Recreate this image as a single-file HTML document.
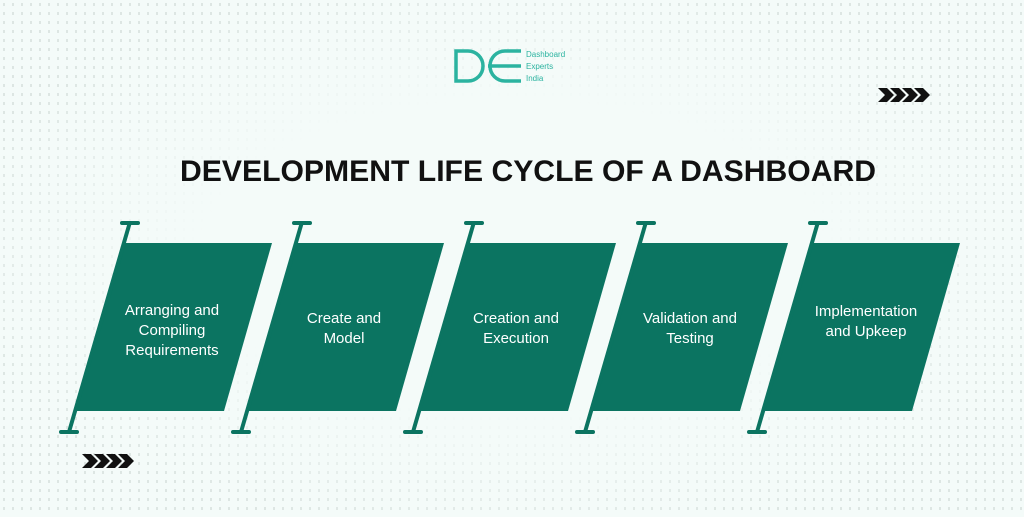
<!DOCTYPE html>
<html><head><meta charset="utf-8"><style>
html,body{margin:0;padding:0}
body{width:1024px;height:512px;overflow:hidden;background:#f4fbf9;font-family:"Liberation Sans",sans-serif}
</style></head><body>
<svg width="1024" height="512" xmlns="http://www.w3.org/2000/svg">
<defs>
<pattern id="dots" width="9" height="9" patternUnits="userSpaceOnUse">
<rect x="3" y="3" width="2" height="3" fill="#dde6e3"/>
</pattern>
<radialGradient id="fade" cx="0.5" cy="0.5" r="0.55">
<stop offset="0.55" stop-color="#f4fbf9" stop-opacity="1"/>
<stop offset="1" stop-color="#f4fbf9" stop-opacity="0"/>
</radialGradient>
<g id="chev">
<path d="M0 0h9l7 7-7 7H0l7-7z" fill="#111"/>
<path d="M12 0h9l7 7-7 7h-9l7-7z" fill="#111"/>
<path d="M24 0h9l7 7-7 7h-9l7-7z" fill="#111"/>
<path d="M36 0h9l7 7-7 7h-9l7-7z" fill="#111"/>
</g>
</defs>
<rect width="1024" height="512" fill="url(#dots)"/>
<rect width="1024" height="512" fill="url(#fade)"/>
<g fill="none" stroke="#2bb3a0" stroke-width="3.5">
<path d="M456 51h12a15 15 0 0 1 0 30h-12z"/>
<path d="M521 51h-16a15 15 0 0 0 0 30h16M488 66h33"/>
</g>
<text x="526" y="57" font-size="8" fill="#2bb3a0">Dashboard</text>
<text x="526" y="69" font-size="8" fill="#2bb3a0">Experts</text>
<text x="526" y="81" font-size="8" fill="#2bb3a0">India</text>
<use href="#chev" x="878" y="88"/>
<use href="#chev" x="82" y="454"/>
<text x="528" y="181" text-anchor="middle" font-size="30" font-weight="bold" fill="#111" textLength="696" lengthAdjust="spacingAndGlyphs">DEVELOPMENT LIFE CYCLE OF A DASHBOARD</text>
<g id="s1">
<polygon points="124,243 272,243 224,411 75,411" fill="#0b7461"/>
<line x1="130" y1="222" x2="69" y2="432" stroke="#0b7461" stroke-width="4"/>
<line x1="122" y1="223" x2="138" y2="223" stroke="#0b7461" stroke-width="4" stroke-linecap="round"/>
<line x1="61" y1="432" x2="77" y2="432" stroke="#0b7461" stroke-width="4" stroke-linecap="round"/>
</g>
<use href="#s1" x="172"/>
<use href="#s1" x="344"/>
<use href="#s1" x="516"/>
<use href="#s1" x="688"/>
<g fill="#fff" font-size="15" text-anchor="middle">
<text x="172" y="315">Arranging and</text>
<text x="172" y="335">Compiling</text>
<text x="172" y="355">Requirements</text>
<text x="344" y="323">Create and</text>
<text x="344" y="343">Model</text>
<text x="516" y="323">Creation and</text>
<text x="516" y="343">Execution</text>
<text x="690" y="323">Validation and</text>
<text x="690" y="343">Testing</text>
<text x="866" y="316">Implementation</text>
<text x="866" y="336">and Upkeep</text>
</g>
</svg>
</body></html>
